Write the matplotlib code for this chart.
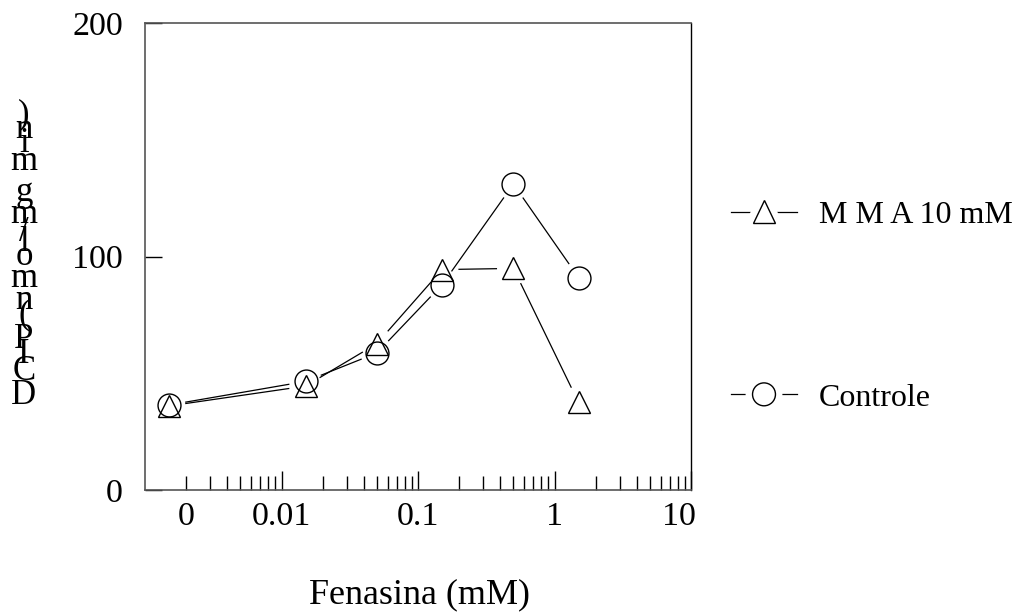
import numpy as np
import matplotlib.pyplot as plt
import matplotlib.patheffects as pe
import matplotlib.transforms as mtransforms
from matplotlib.lines import Line2D
from matplotlib.font_manager import FontProperties

plt.rcParams['font.family'] = ['Liberation Serif', 'DejaVu Serif']

# fenasina concentration (mM); the 0 point sits left of the first decade
conc = [0, 0.015, 0.05, 0.15, 0.5, 1.5]
zero_pos = 0.0015
mma = [36.0, 44.5, 62.7, 94.4, 94.9, 37.5]
controle = [36.4, 46.5, 58.7, 87.9, 131.0, 91.0]
labels = ['M M A 10 mM', 'Controle']

x_label = 'Fenasina (mM)'
y_label = 'DCIP (nmol/mg min)'
x_major = [0.01, 0.1, 1, 10]
x_major_labels = ['0.01', '0.1', '1', '10']
y_ticks = [0, 100, 200]

fs = 24.5
W, H = 1024, 613
fig = plt.figure(figsize=(W / 100, H / 100), dpi=100)
ax = fig.add_axes([145 / W, 1 - 490 / H, 546 / W, 467 / H])

ax.set_xscale('log')
ax.set_xlim(0.001, 10)
ax.set_ylim(0, 200)

# minor ticks 2..9 in every decade, the very first one carries the "0"
minor = [m * 10.0 ** k for k in range(-3, 1) for m in range(2, 10)]
minor_labels = ['0'] + [''] * (len(minor) - 1)
ax.set_xticks(x_major, labels=x_major_labels)
ax.set_xticks(minor, labels=minor_labels, minor=True)
ax.set_yticks(y_ticks)

ax.tick_params(axis='x', which='major', direction='in', length=14, width=1,
               labelsize=fs, pad=8, top=False)
ax.tick_params(axis='x', which='minor', direction='in', length=10, width=1,
               labelsize=fs, pad=8, top=False)
ax.tick_params(axis='y', which='major', direction='in', length=12, width=1,
               labelsize=fs, pad=16, right=False)

# pull the "10" label inside the frame
lab10 = ax.get_xticklabels()[-1]
lab10.set_transform(lab10.get_transform() +
                    mtransforms.ScaledTranslation(-12 / 100, 0, fig.dpi_scale_trans))

for side in ['top', 'left', 'bottom']:
    ax.spines[side].set_color('#555555')
    ax.spines[side].set_linewidth(1.2)
ax.spines['right'].set_color('black')
ax.spines['right'].set_linewidth(1.0)

xs = [zero_pos if c == 0 else c for c in conc]
gap = 17  # px between the segment ends and the marker centre


def gapped_line(xv, yv):
    pts = ax.transData.transform(np.column_stack([xv, yv]))
    inv = ax.transData.inverted()
    for p0, p1 in zip(pts[:-1], pts[1:]):
        d = p1 - p0
        u = d / np.hypot(*d)
        seg = inv.transform(np.array([p0 + u * gap, p1 - u * gap]))
        ax.plot(seg[:, 0], seg[:, 1], color='black', linewidth=0.9)


gapped_line(xs, mma)
gapped_line(xs, controle)
ax.plot(xs, mma, linestyle='none', marker='^', markersize=16.5,
        mfc='none', mec='black', mew=1.0)
ax.plot(xs, controle, linestyle='none', marker='o', markersize=16.5,
        mfc='none', mec='black', mew=1.0)

ax.set_xlabel(x_label, fontsize=26)
ax.xaxis.set_label_coords(0.502, -0.19)

# legend handles: white halo around the marker leaves a gap in the line
halo = [pe.withStroke(linewidth=10, foreground='white')]
h1 = Line2D([], [], color='black', linewidth=0.9, marker='^', markersize=16.5,
            mfc='white', mec='black', mew=1.0, path_effects=halo)
h2 = Line2D([], [], color='black', linewidth=0.9, marker='o', markersize=16.5,
            mfc='white', mec='black', mew=1.0, path_effects=halo)
leg_fs = 23
fs_px = leg_fs * 100 / 72
ax.legend([h1, h2], labels, loc='center left', frameon=False,
          bbox_to_anchor=(731 / W, 1 - 306.5 / H), bbox_transform=fig.transFigure,
          borderpad=0, borderaxespad=0, fontsize=leg_fs,
          handlelength=66 / fs_px, handletextpad=22 / fs_px, labelspacing=4.8)

# y label: upright glyphs stacked bottom to top
renderer = fig.canvas.get_renderer()
prop = FontProperties(family='Liberation Serif', size=25)


def advance(ch):
    if ch == ' ':
        w1 = renderer.get_text_width_height_descent('a a', prop, ismath=False)[0]
        w2 = renderer.get_text_width_height_descent('aa', prop, ismath=False)[0]
        return w1 - w2
    return renderer.get_text_width_height_descent(ch, prop, ismath=False)[0]


adv = [advance(ch) for ch in y_label]
total = sum(adv)
y0 = (H - 259) - total / 2
cum = 0
for ch, a in zip(y_label, adv):
    if ch != ' ':
        fig.text(24 / W, (y0 + cum + a / 2) / H, ch, fontproperties=prop,
                 ha='center', va='center')
    cum += a

fig.savefig('out.png', dpi=100)
